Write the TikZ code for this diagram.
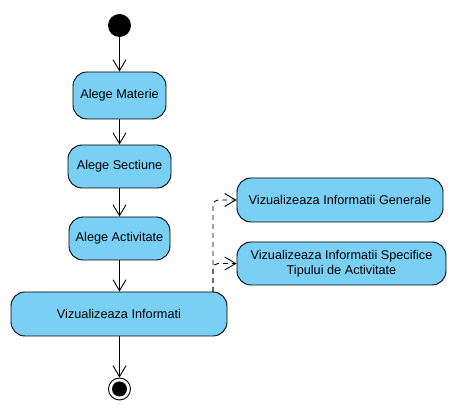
\documentclass[tikz,border=0pt]{standalone}
\usepackage{fontspec}
\setmainfont{Liberation Sans}
\usetikzlibrary{arrows.meta}
\definecolor{actfill}{HTML}{7ACFF5}
\tikzset{
  act/.style={draw=black, line width=0.9pt, fill=actfill, rounded corners=14pt, inner sep=0pt, align=center, font=\fontsize{12.7}{14.5}\selectfont},
  flow/.style={draw=black, line width=0.9pt, -{Straight Barb[length=11pt,width=13pt,line width=0.9pt]}},
  dep/.style={flow, dashed, dash pattern=on 5pt off 4pt, rounded corners=5pt}
}
\begin{document}
\begin{tikzpicture}[x=1pt,y=-1pt]
\useasboundingbox (0,0) rectangle (458,411);
\node[circle, fill=black, minimum size=23pt, inner sep=0pt] (start) at (119.5,25.5) {};
\node[act, minimum width=93pt, minimum height=47pt] (mat) at (119.5,95.5) {Alege Materie};
\node[act, minimum width=103pt, minimum height=43pt] (sec) at (119.5,166.5) {Alege Sectiune};
\node[act, minimum width=101pt, minimum height=43pt] (actv) at (119.5,238.5) {Alege Activitate};
\node[act, minimum width=216pt, minimum height=44pt] (inf) at (119,314) {Vizualizeaza Informati};
\node[act, minimum width=206pt, minimum height=44pt] (gen) at (340,200) {Vizualizeaza Informatii Generale};
\node[act, minimum width=209pt, minimum height=43pt] (spec) at (341.5,263.5) {Vizualizeaza Informatii Specifice\\Tipului de Activitate};
\node[circle, draw=black, line width=0.9pt, fill=white, minimum size=22pt, inner sep=0pt] (end) at (119.5,389) {};
\node[circle, fill=black, minimum size=15pt, inner sep=0pt] (endin) at (end.center) {};
\coordinate (split) at (213,292);
\draw[flow] (start) -- (mat);
\draw[flow] (mat) -- (sec);
\draw[flow] (sec) -- (actv);
\draw[flow] (actv) -- (inf.north -| actv);
\draw[flow] (inf.south -| end) -- (end);
\draw[dep] (split) |- (gen.west);
\draw[dep] (split) |- (spec.west);
\end{tikzpicture}
\end{document}
